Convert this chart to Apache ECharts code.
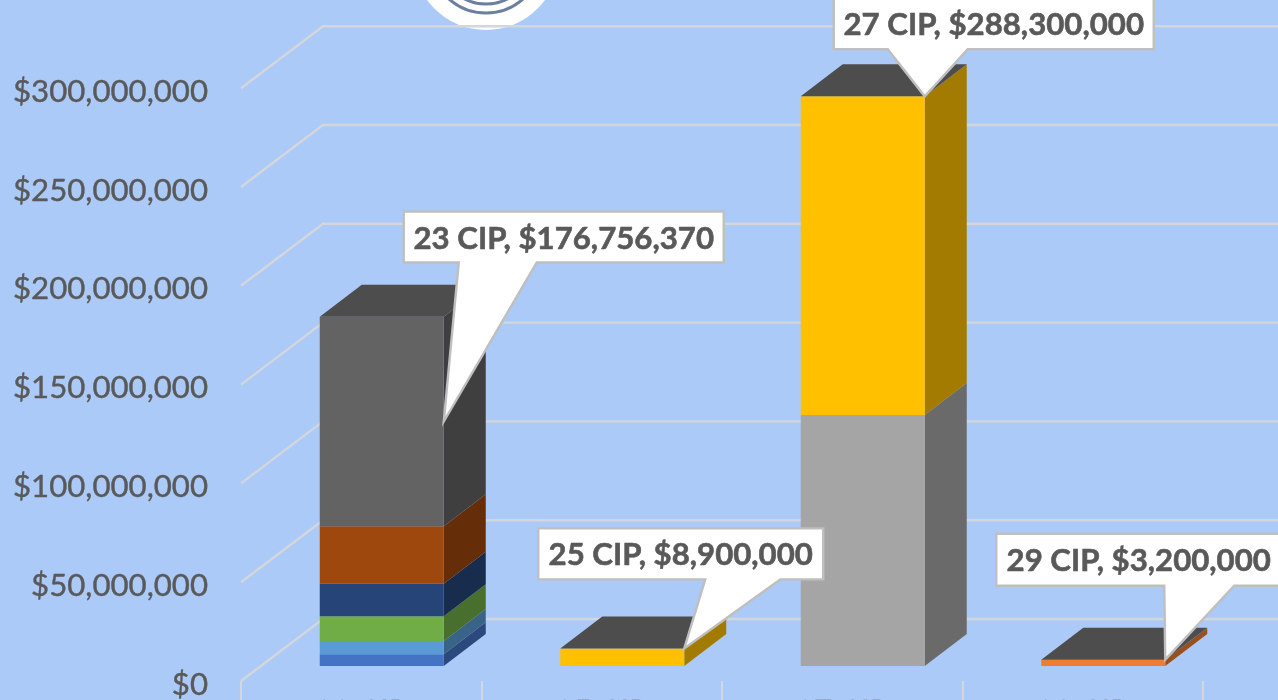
<!DOCTYPE html>
<html>
<head>
<meta charset="utf-8">
<title>CIP</title>
<style>
  html, body { margin: 0; padding: 0; background: #ABCAF8; overflow: hidden; }
  #chart { width: 1278px; height: 700px; }
</style>
</head>
<body>
<div id="chart"></div>
<script src="https://cdn.jsdelivr.net/npm/echarts@6/dist/echarts.min.js"></script>
<script>
// data
var categories = ['23 CIP', '25 CIP', '27 CIP', '29 CIP'];
var totals = [176756370, 8900000, 288300000, 3200000];
var yTicks = [0, 50000000, 100000000, 150000000, 200000000, 250000000, 300000000];

// stacked pieces of each column, bottom to top
var cip23Values = [5900000, 6700000, 12600000, 16400000, 29100000, 106056370];
var cip25Values = [8900000];
var cip27Values = [127000000, 161300000];
var cip29Values = [3200000];

var cip23Colors = ['#4472C4', '#5B9BD5', '#70AD47', '#264478', '#9E480E', '#636363'];
var cip25Colors = ['#FFC000'];
var cip27Colors = ['#A5A5A5', '#FFC000'];
var cip29Colors = ['#ED7D31'];

// fake 3d: floor depth and column depth in pixels
var floorDx = 82, floorDy = -62;
var barDx = 20.5, barDy = -15;
var depthDx = 42, depthDy = -32;
var barRatio = 124 / 240.5;
var topColor = '#4D4D4D';
var gridColor = '#D3D6DB';
var textColor = '#595959';

// callout boxes, relative to the tip of the pointer
var calloutLayout = [
  { left: -40, top: -210, w: 320, h: 51, w1: 15, w2: 93 },
  { left: -146, top: -120, w: 285, h: 51, w1: 21, w2: 96 },
  { left: -91, top: -98, w: 320, h: 51, w1: -37, w2: 43 },
  { left: -169, top: -126, w: 285, h: 52, w1: -1, w2: 69 }
];

function darken(hex) {
  var n = parseInt(hex.slice(1), 16);
  var r = Math.round((n >> 16) * 0.64);
  var g = Math.round(((n >> 8) & 255) * 0.64);
  var b = Math.round((n & 255) * 0.64);
  return 'rgb(' + r + ',' + g + ',' + b + ')';
}

function renderGridLine(params, api) {
  var y = api.coord([0, api.value(1)])[1];
  var x0 = params.coordSys.x;
  var x1 = x0 + params.coordSys.width;
  return {
    type: 'polyline',
    shape: { points: [[x0, y], [x0 + floorDx, y + floorDy], [x1 + floorDx, y + floorDy]] },
    style: { stroke: gridColor, lineWidth: 2.4, fill: null }
  };
}

function makeSegmentRenderer(color, isTop) {
  return function (params, api) {
    var cat = api.value(0);
    var bandW = api.size([1, 0])[0];
    var bw = bandW * barRatio;
    var base = api.coord([cat, api.value(1)]);
    var top = api.coord([cat, api.value(2)]);
    var l = base[0] + barDx - bw / 2;
    var r = l + bw;
    var yb = base[1] + barDy;
    var yt = top[1] + barDy;
    var children = [
      {
        type: 'polygon',
        shape: { points: [[r, yb], [r + depthDx, yb + depthDy], [r + depthDx, yt + depthDy], [r, yt]] },
        style: { fill: darken(color) }
      },
      {
        type: 'rect',
        shape: { x: l, y: yt, width: bw, height: yb - yt },
        style: { fill: color }
      }
    ];
    if (isTop) {
      children.push({
        type: 'polygon',
        shape: { points: [[l, yt], [l + depthDx, yt + depthDy], [r + depthDx, yt + depthDy], [r, yt]] },
        style: { fill: topColor }
      });
    }
    return { type: 'group', children: children };
  };
}

function renderCallout(params, api) {
  var i = api.value(0);
  var bandW = api.size([1, 0])[0];
  var p = api.coord([i, api.value(1)]);
  var tx = p[0] + barDx + bandW * barRatio / 2;
  var ty = p[1] + barDy;
  var c = calloutLayout[i];
  var L = tx + c.left, T = ty + c.top, R = L + c.w, B = T + c.h;
  return {
    type: 'group',
    children: [
      {
        type: 'polygon',
        shape: { points: [[L, T], [R, T], [R, B], [tx + c.w2, B], [tx, ty], [tx + c.w1, B], [L, B]] },
        style: { fill: '#FFFFFF', stroke: '#BFBFBF', lineWidth: 2.4 }
      },
      {
        type: 'text',
        style: {
          text: categories[i] + ', $' + totals[i].toLocaleString('en-US'),
          x: (L + R) / 2,
          y: (T + B) / 2 + 1.5,
          align: 'center',
          verticalAlign: 'middle',
          fill: textColor,
          stroke: textColor,
          lineWidth: 0.6,
          font: 'bold 31.2px Lato'
        }
      }
    ]
  };
}

var series = [{
  type: 'custom',
  z: 1,
  silent: true,
  encode: { x: 0, y: 1 },
  data: yTicks.map(function (v) { return [0, v]; }),
  renderItem: renderGridLine
}];

function addColumn(catIndex, values, colors) {
  var sum = 0;
  values.forEach(function (v, k) {
    series.push({
      type: 'custom',
      name: categories[catIndex] + ' ' + (k + 1),
      z: 2,
      encode: { x: 0, y: [1, 2] },
      data: [[catIndex, sum, sum + v]],
      renderItem: makeSegmentRenderer(colors[k], k === values.length - 1)
    });
    sum += v;
  });
}
addColumn(0, cip23Values, cip23Colors);
addColumn(1, cip25Values, cip25Colors);
addColumn(2, cip27Values, cip27Colors);
addColumn(3, cip29Values, cip29Colors);

// the first callout points at the middle of the top piece, the others at the column top
var lastPiece = cip23Values[cip23Values.length - 1];
var calloutTips = [totals[0] - lastPiece / 2, totals[1], totals[2], totals[3]];

series.push({
  type: 'custom',
  z: 3,
  encode: { x: 0, y: 1 },
  data: calloutTips.map(function (v, i) { return [i, v]; }),
  renderItem: renderCallout
});

var chart = echarts.init(document.getElementById('chart'));
var option = {
  animation: false,
  backgroundColor: '#ABCAF8',
  grid: { left: 241, right: 75, top: 88.2, bottom: 19, outerBoundsMode: 'none' },
  xAxis: {
    type: 'category',
    data: categories,
    axisLine: { show: false },
    axisTick: { show: true, length: 24, lineStyle: { color: gridColor, width: 2 } },
    axisLabel: {
      color: textColor,
      fontFamily: 'Lato',
      fontSize: 31.2,
      margin: 15,
      textBorderColor: textColor,
      textBorderWidth: 0.4
    }
  },
  yAxis: {
    type: 'value',
    min: 0,
    max: 300000000,
    interval: 50000000,
    axisLine: { show: false },
    axisTick: { show: false },
    splitLine: { show: false },
    axisLabel: {
      color: textColor,
      fontFamily: 'Lato',
      fontSize: 31.2,
      margin: 33,
      verticalAlign: 'top',
      lineHeight: 7,
      textBorderColor: textColor,
      textBorderWidth: 0.4,
      formatter: function (v) { return '$' + v.toLocaleString('en-US'); }
    }
  },
  // logo cut off by the top of the picture
  graphic: {
    elements: [
      { type: 'circle', z: 0, shape: { cx: 486, cy: -43, r: 73 }, style: { fill: '#FFFFFF' } },
      { type: 'circle', z: 0, shape: { cx: 486, cy: -43, r: 56 }, style: { fill: null, stroke: '#6B7F9F', lineWidth: 3 } },
      { type: 'circle', z: 0, shape: { cx: 486, cy: -43, r: 47 }, style: { fill: null, stroke: '#6B7F9F', lineWidth: 3 } }
    ]
  },
  series: series
};
chart.setOption(option);
</script>
</body>
</html>
